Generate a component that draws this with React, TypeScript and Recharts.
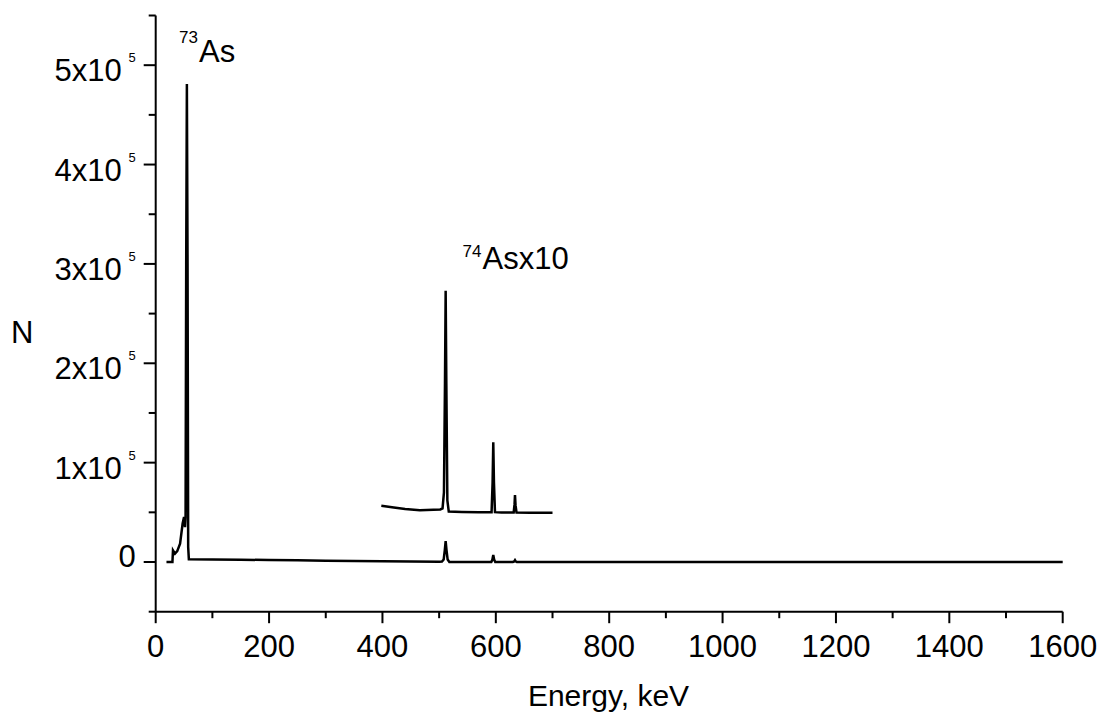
import React from 'react';
import { LineChart, Line, XAxis, YAxis } from 'recharts';

// spectrum of the main source (counts vs energy, keV)
const mainEnergy = [19, 29.5, 30.5, 34, 38, 43, 47.5, 50, 51.7, 52.7, 53.8, 55, 56.2, 57.3, 58.5, 100, 150, 200, 250, 300, 350, 400, 450, 500, 505, 508, 510, 511.5, 513, 515, 518, 560, 592, 594, 595.5, 597, 599, 630, 632.5, 633.8, 635, 637, 700, 900, 1200, 1600];
const mainCounts = [0, 0, 11800, 8500, 11000, 18500, 38700, 45400, 35000, 45000, 300000, 481000, 300000, 15000, 2800, 2600, 2300, 2000, 1700, 1400, 1100, 800, 500, 300, 400, 2500, 12000, 21000, 12000, 2500, 100, 0, 0, 2500, 7000, 2500, 0, 0, 600, 1800, 600, 0, 0, 0, 0, 0];

// 74As part, scaled x10 and lifted
const insetEnergy = [398, 420, 440, 466, 490, 502, 506, 508.5, 510.3, 511.5, 512.7, 514.5, 517, 540, 570, 592.5, 594.3, 595.5, 596.7, 598.5, 610, 631.5, 633, 633.8, 634.8, 636.5, 660, 700];
const insetCounts = [56600, 54800, 53400, 52200, 52600, 52900, 54000, 70000, 180000, 273000, 180000, 62000, 50800, 50300, 50000, 50000, 80000, 120500, 80000, 50200, 49900, 49900, 58000, 67400, 57000, 49800, 49600, 49500];

const xTicks = [0, 100, 200, 300, 400, 500, 600, 700, 800, 900, 1000, 1100, 1200, 1300, 1400, 1500, 1600];
const yTicks = [-50000, 0, 50000, 100000, 150000, 200000, 250000, 300000, 350000, 400000, 450000, 500000, 550000];

const FONT = '"Liberation Sans", Arial, sans-serif';

const rows = (() => {
  const m = new Map<number, any>();
  mainEnergy.forEach((e, i) => {
    m.set(e, { ...(m.get(e) || { e }), main: mainCounts[i] });
  });
  insetEnergy.forEach((e, i) => {
    m.set(e, { ...(m.get(e) || { e }), inset: insetCounts[i] });
  });
  return Array.from(m.values()).sort((a, b) => a.e - b.e);
})();

const XTick = (props: any) => {
  const { x, y, payload } = props;
  const major = payload.value % 200 === 0;
  return (
    <g>
      <line x1={x} x2={x} y1={y} y2={y + (major ? 11.5 : 6.5)} stroke="#000" strokeWidth={2} />
      {major && (
        <text x={x} y={y + 45} textAnchor="middle" fontSize={31} fontFamily={FONT} fill="#000">
          {payload.value}
        </text>
      )}
    </g>
  );
};

const YTick = (props: any) => {
  const { x, y, payload } = props;
  const v = payload.value;
  const major = v % 100000 === 0;
  let label = null;
  if (major && v === 0) {
    label = (
      <text x={x - 20} y={y + 5} textAnchor="end" fontSize={31} fontFamily={FONT} fill="#000">0</text>
    );
  } else if (major && v > 0) {
    label = (
      <g fontFamily={FONT} fill="#000">
        <text x={x - 34} y={y + 16} textAnchor="end" fontSize={31}>{v / 100000}x10</text>
        <text x={x - 20} y={y - 3} textAnchor="end" fontSize={13}>5</text>
      </g>
    );
  }
  return (
    <g>
      <line x1={x - (major ? 12 : 7)} x2={x} y1={y} y2={y} stroke="#000" strokeWidth={2} />
      {label}
    </g>
  );
};

export default function App() {
  return (
    <div style={{ position: 'absolute', left: 0, top: 0, width: 1101, height: 714, background: '#fff' }}>
      <LineChart
        width={1101}
        height={714}
        data={rows}
        margin={{ top: 15.5, right: 38.3, bottom: 0, left: 0 }}
      >
        <XAxis
          type="number"
          dataKey="e"
          domain={[0, 1600]}
          ticks={xTicks}
          interval={0}
          tickSize={0}
          tickMargin={0}
          tickLine={false}
          tick={XTick}
          axisLine={{ stroke: '#000', strokeWidth: 2 }}
          height={102.3}
        />
        <YAxis
          type="number"
          domain={[-50000, 550000]}
          ticks={yTicks}
          interval={0}
          tickSize={0}
          tickMargin={0}
          tickLine={false}
          tick={YTick}
          axisLine={{ stroke: '#000', strokeWidth: 2 }}
          width={155.7}
        />
        <Line type="linear" dataKey="main" stroke="#000" strokeWidth={2.5} dot={false} connectNulls isAnimationActive={false} />
        <Line type="linear" dataKey="inset" stroke="#000" strokeWidth={2.5} dot={false} connectNulls isAnimationActive={false} />
      </LineChart>
      <svg width={1101} height={714} style={{ position: 'absolute', left: 0, top: 0, pointerEvents: 'none' }}>
        <g fontFamily={FONT} fill="#000">
          <text x={179} y={43.3} fontSize={17}>73</text>
          <text x={199} y={61.7} fontSize={31}>As</text>
          <text x={462.5} y={256.7} fontSize={17}>74</text>
          <text x={482.5} y={269} fontSize={31}>Asx10</text>
          <text x={11} y={342.7} fontSize={31}>N</text>
          <text x={608.5} y={706} fontSize={30} textAnchor="middle">Energy, keV</text>
        </g>
      </svg>
    </div>
  );
}
